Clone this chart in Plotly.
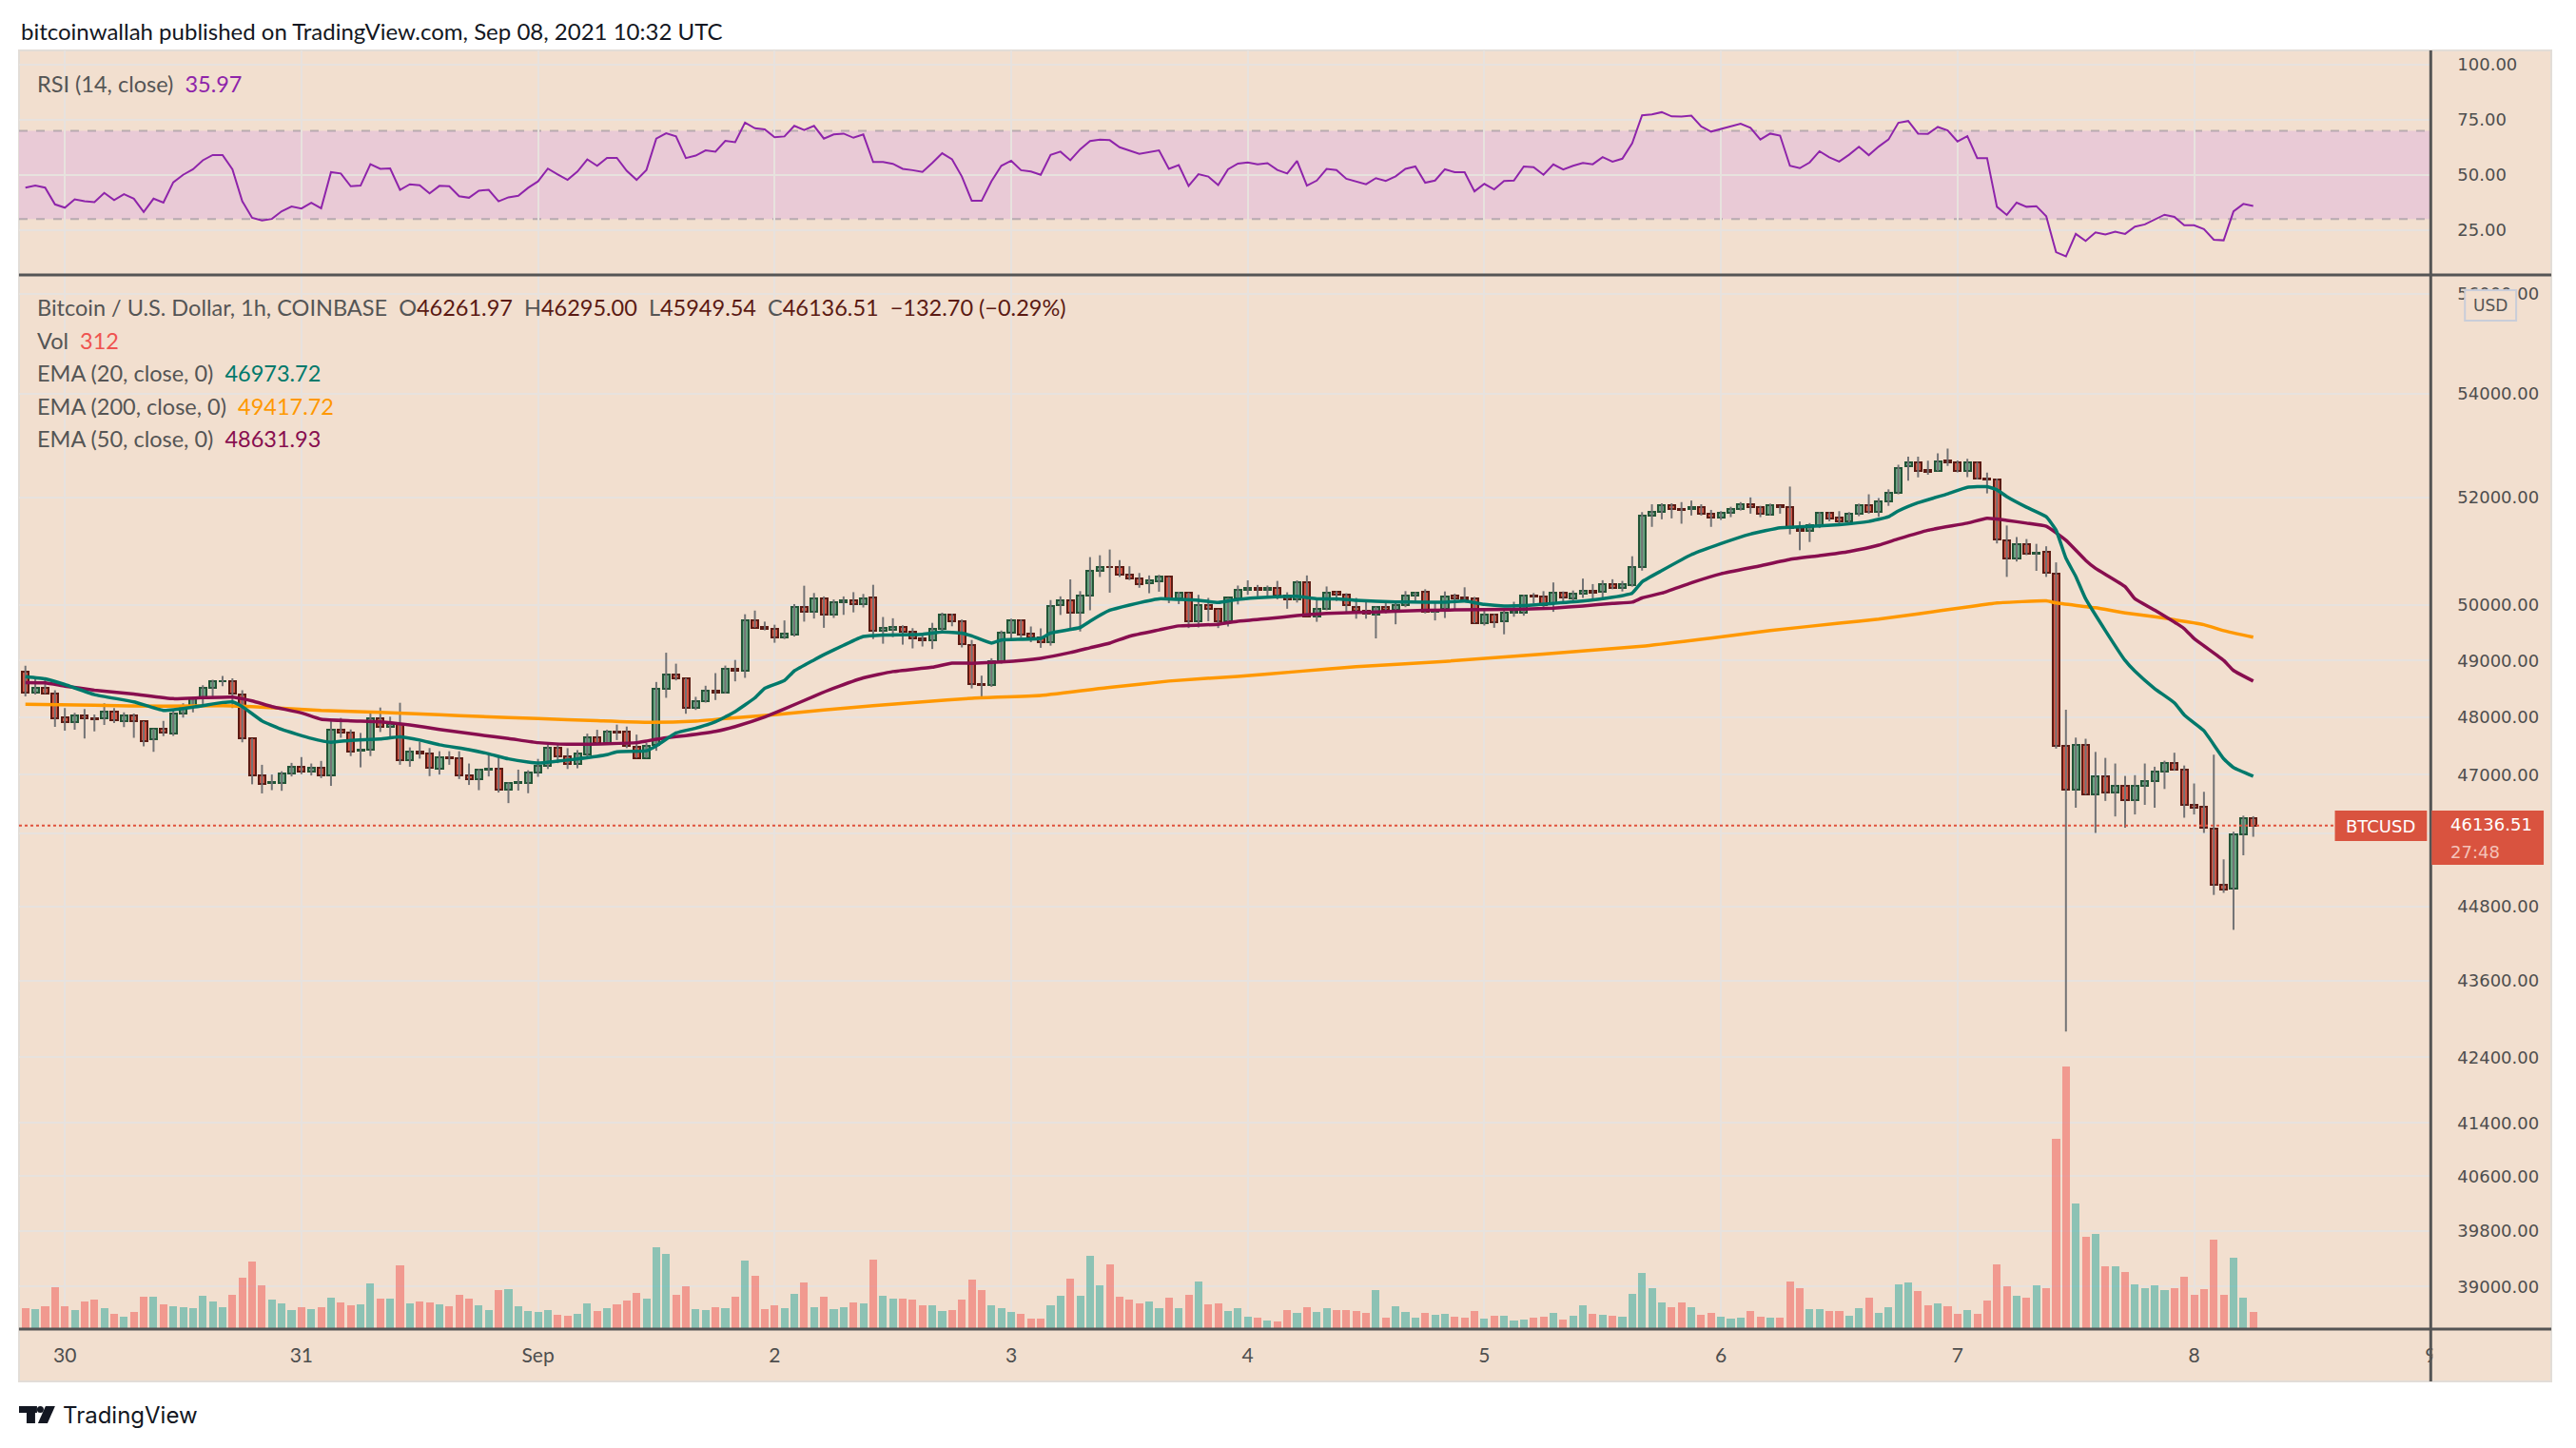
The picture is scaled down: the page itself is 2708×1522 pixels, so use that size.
import pandas as pd
import plotly.graph_objects as go

# the page puts the figure 8px in from the top-left corner, so the figure is a bit
# smaller than the window and every position below is given in window pixels
OFF = 8
W, H = 2708 - 2 * OFF, 1522 - 2 * OFF

# hourly BTCUSD candles (chart time), first candle 2021-08-29 20:00
opens = [
    48795, 48433, 48517, 48417, 48000, 47905, 48033, 47983, 47972, 48100,
    47927, 48033, 47927, 47605, 47794, 47710, 48055, 48200, 48328, 48517,
    48628, 48628, 48394, 47627, 46982, 46860, 46865, 47015, 47143, 47054,
    47127, 46982, 47783, 47727, 47416, 47432, 47977, 47822, 47877, 47249,
    47405, 47366, 47099, 47305, 47282, 46982, 46927, 47082, 47099, 46752,
    46853, 46864, 47038, 47155, 47458, 47318, 47178, 47357, 47654, 47542,
    47743, 47738, 47486, 47290, 47514, 48494, 48751, 48684, 48163, 48275,
    48466, 48427, 48852, 48813, 49726, 49597, 49575, 49407, 49468, 49961,
    49877, 50112, 49832, 50045, 50079, 50011, 50146, 49541, 49558, 49608,
    49524, 49395, 49356, 49575, 49827, 49709, 49282, 48587, 48570, 48994,
    49497, 49723, 49474, 49418, 49322, 50000, 50090, 49864, 50164, 50627,
    50706, 50689, 50554, 50486, 50401, 50441, 50514, 50113, 50226, 49706,
    50006, 49921, 49706, 50119, 50282, 50316, 50282, 50316, 50175, 50102,
    50418, 49791, 49921, 50237, 50198, 49972, 49898, 49830, 49972, 49915,
    49994, 50169, 50237, 49880, 49923, 50171, 50130, 50112, 49669, 49823,
    49711, 49852, 49864, 50171, 50147, 50029, 50218, 50124, 50200, 50253,
    50236, 50383, 50307, 50366, 50690, 51652, 51722, 51852, 51781, 51775,
    51817, 51687, 51616, 51705, 51775, 51870, 51811, 51675, 51846, 51811,
    51410, 51369, 51469, 51705, 51622, 51557, 51687, 51852, 51722, 51929,
    52094, 52600, 52670, 52524, 52502, 52699, 52661, 52509, 52661, 52357,
    52334, 51194, 50859, 51120, 50941, 50971, 50575, 47496, 46750, 47510,
    46662, 46973, 46703, 46811, 46574, 46811, 46892, 47055, 47207, 47090,
    46480, 46460, 46088, 45160, 45093, 45993, 46261.97,
]
highs = [
    48906, 48711, 48656, 48472, 48155, 48072, 48139, 48044, 48239, 48155,
    48083, 48061, 47927, 47794, 47933, 48116, 48239, 48350, 48561, 48656,
    48722, 48683, 48472, 47627, 47171, 47004, 47060, 47204, 47304, 47193,
    47238, 47927, 47983, 47783, 47722, 48088, 48166, 48005, 48250, 47471,
    47571, 47460, 47405, 47405, 47405, 47193, 47099, 47360, 47329, 46870,
    47088, 47077, 47273, 47514, 47514, 47458, 47424, 47710, 47777, 47777,
    47867, 47833, 47693, 47547, 48617, 49138, 48942, 48684, 48354, 48550,
    48774, 48908, 49009, 49832, 49899, 49698, 49642, 49720, 50017, 50353,
    50219, 50157, 50101, 50157, 50235, 50202, 50370, 49782, 49759, 49631,
    49580, 49457, 49676, 49860, 49843, 49737, 49367, 48729, 49039, 49537,
    49751, 49734, 49610, 49576, 50090, 50158, 50469, 50254, 50881, 50915,
    51022, 50825, 50712, 50587, 50542, 50553, 50514, 50243, 50226, 50186,
    50130, 49921, 50130, 50356, 50452, 50367, 50356, 50441, 50232, 50452,
    50542, 50090, 50339, 50254, 50215, 50130, 50073, 49972, 50056, 50056,
    50254, 50237, 50288, 50040, 50248, 50206, 50324, 50147, 49923, 49835,
    49923, 50059, 50189, 50218, 50253, 50413, 50248, 50265, 50484, 50383,
    50454, 50472, 50442, 50897, 51722, 51870, 51888, 51888, 51911, 51941,
    51870, 51764, 51740, 51823, 51911, 52000, 51840, 51882, 51846, 52206,
    51546, 51516, 51722, 51722, 51740, 51722, 51882, 52059, 51988, 52153,
    52625, 52780, 52780, 52699, 52844, 52935, 52707, 52737, 52676, 52471,
    52357, 51470, 51254, 51217, 51127, 51082, 50783, 48129, 47641, 47621,
    47393, 47290, 47193, 46980, 46993, 47193, 47138, 47241, 47379, 47159,
    46851, 46709, 47345, 45573, 46034, 46304, 46295.00,
]
lows = [
    48361, 48394, 48406, 47827, 47760, 47777, 47627, 47749, 47860, 47894,
    47822, 47638, 47488, 47394, 47666, 47671, 47988, 48083, 48194, 48361,
    48544, 48155, 47560, 46837, 46682, 46737, 46726, 46971, 47010, 46988,
    46943, 46810, 47638, 47321, 47127, 47321, 47738, 47655, 47171, 47138,
    47277, 46976, 47004, 47171, 46927, 46826, 46737, 46971, 46696, 46517,
    46730, 46685, 46965, 47099, 47200, 47099, 47111, 47312, 47514, 47514,
    47598, 47458, 47290, 47290, 47413, 48337, 48645, 48057, 48124, 48253,
    48298, 48410, 48628, 48690, 49591, 49541, 49317, 49384, 49429, 49698,
    49754, 49586, 49765, 49821, 49866, 49955, 49384, 49300, 49418, 49283,
    49216, 49250, 49205, 49513, 49614, 49233, 48503, 48350, 48531, 48943,
    49395, 49407, 49327, 49226, 49265, 49819, 49565, 49520, 49904, 50514,
    50226, 50514, 50457, 50316, 50215, 50243, 50034, 50017, 49582, 49593,
    49706, 49582, 49610, 50011, 50186, 50158, 50158, 50102, 49932, 50045,
    49791, 49695, 49904, 50073, 49847, 49751, 49751, 49395, 49847, 49650,
    49960, 50073, 49847, 49720, 49764, 49905, 50053, 49669, 49628, 49587,
    49469, 49787, 49805, 50029, 49952, 49876, 50029, 50053, 50130, 50071,
    50130, 50289, 50248, 50336, 50631, 51445, 51587, 51604, 51504, 51658,
    51658, 51445, 51575, 51628, 51752, 51693, 51628, 51658, 51693, 51304,
    51009, 51162, 51422, 51551, 51487, 51516, 51646, 51693, 51634, 51840,
    52059, 52320, 52380, 52433, 52502, 52600, 52479, 52388, 52342, 52076,
    51135, 50515, 50799, 50918, 50627, 50515, 47450, 42800, 46439, 46662,
    46014, 46554, 46291, 46101, 46325, 46487, 46439, 46757, 47069, 46270,
    46325, 46014, 44986, 45020, 44417, 45640, 45949.54,
]
closes = [
    48433, 48517, 48417, 47983, 47905, 48033, 47983, 47966, 48100, 47950,
    48027, 47927, 47588, 47794, 47722, 48055, 48200, 48328, 48517, 48628,
    48639, 48406, 47627, 46982, 46849, 46876, 47015, 47143, 47054, 47127,
    46982, 47783, 47727, 47405, 47432, 47977, 47822, 47877, 47249, 47394,
    47366, 47121, 47293, 47282, 46982, 46927, 47082, 47099, 46752, 46853,
    46870, 47038, 47155, 47458, 47323, 47189, 47374, 47654, 47542, 47738,
    47727, 47491, 47290, 47503, 48494, 48751, 48679, 48163, 48281, 48466,
    48432, 48852, 48813, 49726, 49591, 49575, 49407, 49474, 49961, 49877,
    50112, 49832, 50045, 50079, 50011, 50129, 49541, 49580, 49608, 49524,
    49395, 49356, 49575, 49827, 49709, 49285, 48587, 48570, 48994, 49497,
    49723, 49469, 49418, 49322, 49989, 50090, 49864, 50164, 50621, 50706,
    50695, 50554, 50486, 50390, 50446, 50514, 50113, 50226, 49706, 50006,
    49932, 49706, 50130, 50282, 50311, 50282, 50316, 50181, 50102, 50418,
    49791, 49921, 50226, 50198, 49994, 49898, 49842, 49972, 49904, 49994,
    50169, 50226, 49881, 49920, 50159, 50112, 50100, 49669, 49823, 49687,
    49864, 49888, 50171, 50147, 49999, 50218, 50130, 50206, 50253, 50229,
    50383, 50307, 50383, 50702, 51652, 51722, 51852, 51781, 51764, 51817,
    51687, 51616, 51705, 51775, 51870, 51811, 51687, 51846, 51811, 51422,
    51369, 51469, 51705, 51599, 51557, 51687, 51852, 51734, 51929, 52094,
    52566, 52660, 52505, 52494, 52692, 52669, 52509, 52661, 52357, 52334,
    51202, 50859, 51120, 50948, 50963, 50597, 47496, 46750, 47510, 46662,
    46973, 46703, 46811, 46574, 46811, 46892, 47055, 47207, 47090, 46480,
    46446, 46101, 45160, 45080, 45993, 46269.21, 46136.51,
]
volumes = [
    378, 360, 414, 774, 414, 342, 504, 540, 378, 270,
    216, 306, 594, 594, 450, 414, 396, 378, 612, 504,
    396, 630, 954, 1260, 810, 540, 468, 342, 396, 360,
    396, 576, 486, 432, 450, 846, 558, 558, 1188, 468,
    504, 486, 450, 414, 630, 558, 432, 342, 720, 738,
    414, 324, 306, 342, 252, 234, 270, 468, 324, 378,
    450, 522, 666, 558, 1530, 1404, 630, 792, 360, 342,
    396, 378, 594, 1278, 990, 360, 432, 378, 648, 864,
    396, 594, 360, 396, 486, 468, 1296, 612, 558, 558,
    540, 432, 432, 324, 342, 540, 918, 720, 432, 378,
    306, 270, 180, 180, 432, 612, 936, 612, 1368, 810,
    1206, 594, 540, 474, 510, 378, 576, 378, 630, 882,
    450, 468, 324, 378, 216, 198, 144, 126, 342, 288,
    396, 306, 378, 342, 342, 324, 288, 720, 198, 414,
    306, 198, 288, 252, 270, 216, 198, 324, 180, 234,
    234, 144, 162, 198, 216, 288, 162, 234, 432, 270,
    252, 234, 216, 648, 1044, 756, 486, 396, 486, 396,
    252, 288, 216, 180, 198, 324, 216, 198, 198, 882,
    756, 360, 360, 324, 324, 234, 378, 576, 288, 396,
    828, 864, 702, 432, 468, 414, 270, 342, 270, 522,
    1206, 792, 612, 576, 810, 756, 3582, 4950, 2358, 1728,
    1782, 1170, 1170, 1062, 828, 756, 810, 720, 756, 972,
    630, 738, 1674, 630, 1332, 576, 312,
]
rsi = [
    44.3, 45.2, 44.3, 36.7, 35.2, 39.0, 38.1, 37.7, 41.9, 38.6,
    41.3, 39.3, 33.2, 39.3, 37.5, 46.7, 50.1, 52.6, 56.7, 59.1,
    59.1, 52.6, 38.1, 30.6, 29.4, 30.1, 33.6, 35.7, 34.8, 37.4,
    34.9, 51.3, 50.7, 44.9, 45.2, 54.9, 52.8, 53.0, 43.3, 45.8,
    45.4, 41.7, 45.1, 44.9, 40.4, 39.7, 42.9, 43.3, 38.1, 39.9,
    40.6, 44.2, 47.1, 52.9, 50.3, 47.8, 51.6, 57.1, 54.2, 57.8,
    57.8, 51.9, 47.8, 52.3, 66.5, 68.9, 67.5, 57.7, 58.8, 61.2,
    60.6, 65.5, 64.9, 73.8, 71.2, 70.7, 67.1, 67.5, 72.3, 70.4,
    72.3, 66.5, 68.4, 68.8, 66.9, 68.4, 55.9, 55.9, 55.1, 52.8,
    52.2, 51.4, 55.5, 59.9, 57.1, 49.3, 38.3, 38.3, 47.2, 54.2,
    56.5, 52.2, 51.6, 50.1, 59.1, 60.6, 56.7, 61.7, 65.4, 66.1,
    65.8, 62.6, None, 59.6, None, 61.2, 52.8, 54.5, 45.1, 50.4,
    49.3, 45.5, 52.6, 55.2, 55.7, 54.8, 55.4, 52.3, 50.7, 56.4,
    45.2, 47.5, 52.8, 52.3, 48.3, 47.0, 45.8, 48.6, 47.3, 49.4,
    52.8, 53.9, 46.5, 47.5, 52.6, 51.3, 51.3, 42.6, 46.0, 43.5,
    47.3, 47.5, 53.9, 53.6, 50.1, 54.8, 52.5, 54.2, 55.5, 54.9,
    58.1, 56.1, 57.4, 64.4, 77.1, 77.5, 78.5, 76.6, 76.5, 76.9,
    72.0, 69.7, 71.0, None, 73.3, 71.4, 66.1, 68.8, 67.9, 54.2,
    53.1, 55.7, 60.8, 58.0, 56.1, 59.2, 62.8, 59.0, 62.9, 66.1,
    73.7, 74.5, 68.8, 68.7, 71.8, 70.2, 65.2, 67.6, 57.7, 57.7,
    35.6, 31.9, 37.5, 35.6, 35.9, 31.3, 15.0, 13.1, 23.3, 20.1,
    24.0, 23.0, 24.3, 23.3, 26.6, 27.6, 29.8, 32.0, 31.0, 27.2,
    27.2, 25.5, 20.7, 20.4, 33.5, 36.9, 35.97,
]

# EMA lines (hour index of the candle, value)
ema20_h = [0, 2, 4, 7, 11, 14, 17, 20, 21, 22, 24, 26, 29, 31, 33, 36, 38, 40, 42, 45,
           47, 49, 51, 52, 54, 56, 59, 60, 63, 64, 66, 68, 70, 72, 74, 75, 77, 78, 80, 81,
           83, 85, 87, 91, 93, 95, 96, 98, 99, 103, 104, 107, 108, 110, 112, 115, 117, 119, 121, 123,
           126, 129, 131, 133, 135, 139, 142, 144, 146, 148, 150, 152, 155, 158, 161, 163, 164, 166, 169, 172,
           175, 178, 180, 184, 187, 189, 190, 192, 195, 197, 199, 200, 201, 203, 205, 206, 207, 208, 209, 211,
           213, 214, 216, 218, 219, 220, 221, 223, 224, 226]
ema20 = [48711, 48672, 48572, 48394, 48266, 48116, 48172, 48255, 48266, 48183, 47933, 47783, 47627, 47560, 47594, 47616, 47655, 47599, 47516, 47432,
         47360, 47273, 47217, 47200, 47234, 47273, 47346, 47396, 47413, 47497, 47721, 47805, 47917, 48096, 48337, 48505, 48645, 48813, 49009, 49104,
         49272, 49429, 49457, 49468, 49513, 49490, 49440, 49311, 49367, 49395, 49491, 49593, 49706, 49904, 50000, 50113, 50102, 50085, 50045, 50102,
         50141, 50158, 50113, 50113, 50085, 50056, 50053, 50053, 50071, 50012, 49983, 49990, 50029, 50071, 50141, 50218, 50424, 50631, 50926, 51132,
         51310, 51428, 51445, 51487, 51546, 51634, 51745, 51900, 52068, 52190, 52205, 52144, 52015, 51814, 51634, 51381, 50859, 50523, 50113, 49536,
         49000, 48807, 48500, 48250, 48036, 47897, 47759, 47276, 47124, 46973.72]
ema50_h = [0, 2, 4, 7, 11, 15, 18, 21, 23, 25, 28, 30, 33, 36, 39, 42, 46, 49, 52, 55,
           59, 62, 63, 65, 67, 70, 72, 75, 77, 80, 82, 85, 88, 92, 94, 96, 99, 103, 106, 108,
           110, 112, 115, 117, 121, 123, 126, 129, 132, 135, 139, 142, 148, 152, 155, 158, 161, 163, 164, 166,
           169, 172, 176, 179, 182, 185, 188, 190, 193, 197, 199, 201, 203, 205, 207, 209, 210, 213, 214, 216,
           219, 220, 223, 224, 226]
ema50 = [48606, 48600, 48544, 48472, 48405, 48322, 48339, 48350, 48283, 48183, 48072, 47961, 47933, 47916, 47861, 47783, 47690, 47626, 47553, 47525,
         47536, 47553, 47581, 47637, 47676, 47749, 47833, 48001, 48141, 48365, 48505, 48690, 48802, 48880, 48953, 48950, 48972, 49039, 49141, 49226,
         49311, 49435, 49548, 49621, 49650, 49706, 49751, 49808, 49847, 49864, 49887, 49905, 49915, 49926, 49943, 49983, 50029, 50053, 50129, 50218,
         50407, 50572, 50720, 50838, 50908, 50985, 51103, 51220, 51381, 51515, 51605, 51567, 51515, 51455, 51194, 50821, 50672, 50336, 50113, 49907,
         49571, 49393, 49000, 48821, 48631.93]
ema200_h = [0, 7, 14, 20, 23, 30, 36, 42, 46, 52, 58, 63, 68, 71, 76, 81, 86, 91, 96, 103,
            110, 116, 123, 129, 135, 144, 164, 171, 177, 184, 188, 192, 197, 200, 205, 206, 210, 213, 216, 221,
            223, 226]
ema200 = [48222, 48205, 48189, 48200, 48183, 48116, 48083, 48038, 48010, 47973, 47934, 47906, 47928, 47973, 48040, 48124, 48197, 48264, 48330, 48378,
          48520, 48633, 48717, 48802, 48887, 48983, 49254, 49400, 49537, 49670, 49744, 49840, 49964, 50037, 50075, 50037, 49950, 49857, 49786, 49643,
          49536, 49417.72]

day_ticks = ["2021-08-30", "2021-08-31", "2021-09-01", "2021-09-02", "2021-09-03", "2021-09-04",
             "2021-09-05", "2021-09-06", "2021-09-07", "2021-09-08", "2021-09-09"]
day_labels = ["30", "31", "Sep", "2", "3", "4", "5", "6", "7", "8", "9"]
price_ticks = [39000, 39800, 40600, 41400, 42400, 43600, 44800, 46000, 47000, 48000,
               49000, 50000, 52000, 54000, 56000]
hidden_ticks = [46000]  # label sits under the last-price tag
rsi_ticks = [25, 50, 75, 100]

times = pd.date_range("2021-08-29 20:00", periods=len(opens), freq="h")


def at(hs):
    return [times[h] for h in hs]


def fx(px):
    return (px - OFF) / W


def fy(py):
    return 1 - (py - OFF) / H


BG = "#f2dfcf"
GRID = "#e7e2de"
AXIS = "#555555"
TICKFONT = dict(family="DejaVu Sans", size=18, color="#4e4e4e")
TXT = "Lato"

up = [c >= o for o, c in zip(opens, closes)]

fig = go.Figure()

# RSI pane
fig.add_trace(go.Scatter(x=times, y=rsi, xaxis="x2", yaxis="y", mode="lines",
                         line=dict(color="#8e24aa", width=2), connectgaps=True, hoverinfo="skip"))

# volume
fig.add_trace(go.Bar(x=times, y=volumes, xaxis="x", yaxis="y3", width=0.78 * 3600000,
                     marker=dict(color=["rgba(38,166,154,0.5)" if u else "rgba(239,83,80,0.5)" for u in up],
                                 line=dict(width=0)), hoverinfo="skip"))

# wicks
wick_x, wick_y = [], []
for t, hi, lo in zip(times, highs, lows):
    wick_x += [t, t, None]
    wick_y += [lo, hi, None]
fig.add_trace(go.Scatter(x=wick_x, y=wick_y, xaxis="x", yaxis="y2", mode="lines",
                         line=dict(color="#737375", width=2), hoverinfo="skip"))

# bodies
fig.add_trace(go.Bar(
    x=times, y=[abs(c - o) for o, c in zip(opens, closes)],
    base=[min(o, c) for o, c in zip(opens, closes)],
    xaxis="x", yaxis="y2", width=0.68 * 3600000,
    marker=dict(color=["#6ba583" if u else "#d75442" for u in up],
                line=dict(color=["#225437" if u else "#5b1a13" for u in up], width=2)),
    hoverinfo="skip"))

for hs, vals, col in [(ema200_h, ema200, "#ff9800"), (ema50_h, ema50, "#880e4f"), (ema20_h, ema20, "#00796b")]:
    fig.add_trace(go.Scatter(x=at(hs), y=vals, xaxis="x", yaxis="y2", mode="lines",
                             line=dict(color=col, width=3.5, shape="spline", smoothing=0.4), hoverinfo="skip"))

x_start = times[0] - pd.Timedelta(minutes=39)
x_end = pd.Timestamp("2021-09-09 00:00:30")

xdom = [fx(20), fx(2561)]
fig.update_layout(
    width=W, height=H, margin=dict(l=0, r=0, t=0, b=0),
    paper_bgcolor="white", plot_bgcolor="rgba(0,0,0,0)",
    showlegend=False, barmode="overlay", bargap=0,
    xaxis=dict(domain=xdom, anchor="y2", type="date", range=[x_start, x_end],
               tickvals=day_ticks, ticktext=day_labels, ticks="", ticklabelstandoff=14,
               tickfont=dict(family=TXT, size=21, color="#4e4e4e"),
               showgrid=True, gridcolor=GRID, gridwidth=2, zeroline=False, showline=False),
    xaxis2=dict(domain=xdom, anchor="y", matches="x", type="date", showticklabels=False, ticks="",
                tickvals=day_ticks, showgrid=True, gridcolor=GRID, gridwidth=2, zeroline=False),
    yaxis=dict(domain=[fy(289), fy(53)], anchor="x2", side="right", range=[4.7, 106.5],
               tickvals=rsi_ticks, ticktext=[f"{v:.2f}" for v in rsi_ticks], ticks="",
               ticklabelstandoff=27, tickfont=TICKFONT,
               showgrid=True, gridcolor=GRID, gridwidth=2, zeroline=False),
    yaxis2=dict(domain=[fy(1396), fy(289)], anchor="x", side="right", type="log",
                range=[4.58450, 4.75122], tickvals=price_ticks,
                ticktext=["" if v in hidden_ticks else f"{v:.2f}" for v in price_ticks], ticks="",
                ticklabelstandoff=27, tickfont=TICKFONT,
                showgrid=True, gridcolor=GRID, gridwidth=2, zeroline=False),
    yaxis3=dict(domain=[fy(1396), fy(289)], anchor="x", overlaying="y2", range=[0, 19926],
                visible=False),
)


def rect(x0, y0, x1, y1, **kw):
    d = dict(type="rect", xref="paper", yref="paper", x0=fx(x0), x1=fx(x1), y0=fy(y1), y1=fy(y0))
    d.update(kw)
    return d


def hline(y, x0, x1, **kw):
    d = dict(type="line", xref="paper", yref="paper", x0=fx(x0), x1=fx(x1), y0=fy(y), y1=fy(y))
    d.update(kw)
    return d


shapes = [
    rect(20, 53, 2688, 1452, fillcolor=BG, line=dict(color="#e2ddd8", width=2), layer="below"),
    dict(type="rect", xref="paper", yref="y", x0=xdom[0], x1=xdom[1], y0=30, y1=70,
         fillcolor="rgba(228,194,216,0.72)", line=dict(width=0), layer="between"),
]
for lvl in [70, 50, 30]:
    shapes.append(dict(type="line", xref="paper", yref="y", x0=xdom[0], x1=xdom[1], y0=lvl, y1=lvl,
                       line=dict(color="rgba(120,123,134,0.45)", width=2, dash="dash"), layer="between"))
shapes += [
    dict(type="line", xref="paper", yref="y2", x0=xdom[0], x1=fx(2460), y0=closes[-1], y1=closes[-1],
         line=dict(color="#e0513c", width=2, dash="dot"), layer="above"),
    rect(2563, 1398, 2686, 1450, fillcolor=BG, line=dict(width=0), layer="above"),
    hline(289, 20, 2688, line=dict(color=AXIS, width=3), layer="above"),
    hline(1397, 20, 2688, line=dict(color=AXIS, width=3), layer="above"),
    dict(type="line", xref="paper", yref="paper", x0=fx(2561), x1=fx(2561), y0=fy(1452), y1=fy(53),
         line=dict(color=AXIS, width=3), layer="above"),
    rect(2460, 852, 2557, 884, fillcolor="#d9533f", line=dict(width=0), layer="above"),
    rect(2562, 852, 2680, 909, fillcolor="#d9533f", line=dict(width=0), layer="above"),
    rect(2597, 305, 2651, 337, fillcolor=BG, line=dict(color="#c9cdd9", width=2), layer="above"),
    # TradingView logo mark
    rect(20, 1478, 39, 1485, fillcolor="#131722", line=dict(width=0)),
    rect(28, 1478, 37, 1496, fillcolor="#131722", line=dict(width=0)),
    dict(type="circle", xref="paper", yref="paper", x0=fx(39), x1=fx(46), y0=fy(1485), y1=fy(1478),
         fillcolor="#131722", line=dict(width=0)),
    dict(type="path", xref="paper", yref="paper", fillcolor="#131722", line=dict(width=0),
         path=f"M {fx(48)} {fy(1478)} L {fx(58)} {fy(1478)} L {fx(50)} {fy(1496)} L {fx(40)} {fy(1496)} Z"),
]
fig.update_layout(shapes=shapes)


def span(txt, col):
    return f"<span style='color:{col}'>{txt}</span>"


chg = closes[-1] - closes[-2]
pct = chg / closes[-2] * 100
val = "#5b1a13"
sp = "&nbsp;&nbsp;"
line1 = ("Bitcoin / U.S. Dollar, 1h, COINBASE" + sp +
         "O" + span(f"{opens[-1]:.2f}", val) + sp +
         "H" + span(f"{highs[-1]:.2f}", val) + sp +
         "L" + span(f"{lows[-1]:.2f}", val) + sp +
         "C" + span(f"{closes[-1]:.2f}", val) + sp +
         span(f"{chg:.2f} ({pct:.2f}%)".replace("-", "\u2212"), val))

legend_rows = [
    (323, line1),
    (358, "Vol" + sp + span(f"{volumes[-1]}", "#ef5350")),
    (392, "EMA (20, close, 0)" + sp + span(f"{ema20[-1]:.2f}", "#00796b")),
    (427, "EMA (200, close, 0)" + sp + span(f"{ema200[-1]:.2f}", "#ff9800")),
    (461, "EMA (50, close, 0)" + sp + span(f"{ema50[-1]:.2f}", "#880e4f")),
]

ann = [
    dict(x=fx(20), y=fy(33), text="bitcoinwallah published on TradingView.com, Sep 08, 2021 10:32 UTC",
         font=dict(family=TXT, size=24, color="#131722"), xanchor="left"),
    dict(x=fx(37), y=fy(88), text="RSI (14, close)" + sp + span(f"{rsi[-1]:.2f}", "#8e24aa"),
         font=dict(family=TXT, size=23.5, color="#555555"), xanchor="left"),
]
for yy, txt in legend_rows:
    ann.append(dict(x=fx(37), y=fy(yy), text=txt, font=dict(family=TXT, size=23.5, color="#555555"),
                    xanchor="left"))
ann += [
    dict(x=fx(2508), y=fy(868), text="BTCUSD", font=dict(family="DejaVu Sans", size=18, color="white"),
         xanchor="center"),
    dict(x=fx(2580), y=fy(866), text=f"{closes[-1]:.2f}",
         font=dict(family="DejaVu Sans", size=18, color="white"), xanchor="left"),
    dict(x=fx(2580), y=fy(895), text="27:48", font=dict(family="DejaVu Sans", size=18, color="#f4c2b8"),
         xanchor="left"),
    dict(x=fx(2624), y=fy(321), text="USD", font=dict(family="DejaVu Sans", size=17, color="#555555"),
         xanchor="center"),
    dict(x=fx(64), y=fy(1487), text="TradingView", font=dict(family="Inter", size=24, color="#131722"),
         xanchor="left"),
]
for a in ann:
    a.update(xref="paper", yref="paper", yanchor="middle", showarrow=False)
fig.update_layout(annotations=ann)

fig.write_html("out.html")
